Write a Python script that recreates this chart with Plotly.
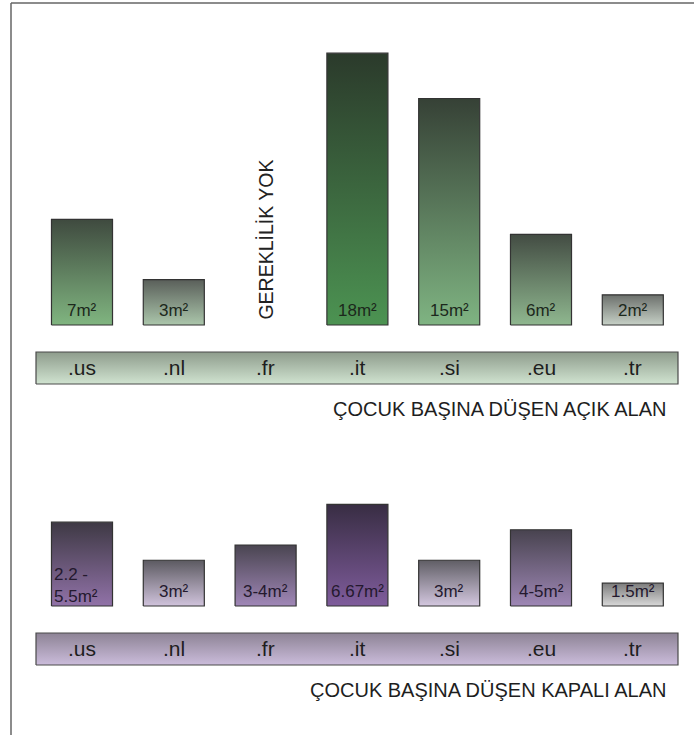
import plotly.graph_objects as go

# ---------------- data ----------------
categories = [".us", ".nl", ".fr", ".it", ".si", ".eu", ".tr"]
open_area = [7, 3, None, 18, 15, 6, 2]
open_labels = ["7m²", "3m²", "", "18m²", "15m²", "6m²", "2m²"]
open_note = "GEREKLİLİK YOK"
open_title = "ÇOCUK BAŞINA DÜŞEN AÇIK ALAN"

closed_area = [5.5, 3, 4, 6.67, 3, 5, 1.5]
closed_labels = ["2.2 -<br>5.5m²", "3m²", "3-4m²", "6.67m²", "3m²", "4-5m²", "1.5m²"]
closed_title = "ÇOCUK BAŞINA DÜŞEN KAPALI ALAN"

# ---------------- styles ----------------
open_colors = [("#3f4a3f", "#80b580"), ("#5a5f5a", "#abc6ab"), None,
               ("#2b3a2b", "#4c9352"), ("#364136", "#7fb482"),
               ("#434c43", "#8fb78f"), ("#6c706c", "#c6d0c6")]
closed_colors = [("#3e3944", "#9172a8"), ("#5c5a61", "#d0c3dc"), ("#4a4551", "#a087b7"),
                 ("#382d43", "#7f5c9c"), ("#605e65", "#d3c7df"),
                 ("#48434f", "#9e87b5"), ("#7c7c7c", "#d8d8d8")]
FONT = "Liberation Sans, Arial, sans-serif"
W, H = 694, 735
BAR_W = 0.665

fig = go.Figure()

def band(x0, x1, y0, y1, top, bottom):
    fig.add_trace(go.Scatter(
        x=[x0, x0, x1, x1, x0], y=[y1, y0, y0, y1, y1],
        xaxis="x2", yaxis="y3", mode="lines", fill="toself",
        fillgradient=dict(type="vertical", colorscale=[[0, bottom], [1, top]]),
        line=dict(color="#4a4a4a", width=1.2), hoverinfo="skip", showlegend=False))

# category bands (pixel coordinate helper axes)
band(36, 678, 352, 384, "#8e9c8c", "#d0e3d0")
band(36, 678, 633, 665, "#8d8395", "#cbbcdb")

def bars(values, colors, yaxis):
    for i, v in enumerate(values):
        if v is None:
            continue
        top, bottom = colors[i]
        x0, x1 = i - BAR_W / 2, i + BAR_W / 2
        fig.add_trace(go.Scatter(
            x=[x0, x0, x1, x1, x0], y=[0, v, v, 0, 0],
            xaxis="x", yaxis=yaxis, mode="lines", fill="toself",
            fillgradient=dict(type="vertical", colorscale=[[0, bottom], [1, top]]),
            line=dict(color="#333333", width=1.2), hoverinfo="skip", showlegend=False))

bars(open_area, open_colors, "y")
bars(closed_area, closed_colors, "y2")

ann = []
for i, c in enumerate(categories):
    # value labels
    if open_labels[i]:
        ann.append(dict(x=i, y=0, xref="x", yref="y", text=open_labels[i], showarrow=False,
                        yshift=15, yanchor="middle",
                        font=dict(family=FONT, size=17, color="#1c281c")))
    lab = closed_labels[i]
    if "<br>" in lab:
        ann.append(dict(x=i - BAR_W / 2, y=0, xref="x", yref="y2", text=lab, showarrow=False,
                        xanchor="left", align="left", yshift=21, yanchor="middle", xshift=1,
                        font=dict(family=FONT, size=17, color="#24192e")))
    else:
        ann.append(dict(x=i, y=0, xref="x", yref="y2", text=lab, showarrow=False,
                        yshift=15, yanchor="middle",
                        font=dict(family=FONT, size=17, color="#24192e")))
    # category labels in bands
    ann.append(dict(x=i, y=367, xref="x", yref="y3", text=c, showarrow=False,
                    font=dict(family=FONT, size=21, color="#1e1e1e")))
    ann.append(dict(x=i, y=648, xref="x", yref="y3", text=c, showarrow=False,
                    font=dict(family=FONT, size=21, color="#1e1e1e")))
    if open_area[i] is None:
        ann.append(dict(x=i, y=240, xref="x", yref="y3", text=open_note, showarrow=False,
                        textangle=-90, font=dict(family=FONT, size=19.5, color="#222")))

ann.append(dict(x=668, y=409, xref="x2", yref="y3", text=open_title, showarrow=False,
                xanchor="right", font=dict(family=FONT, size=20, color="#1e1e1e")))
ann.append(dict(x=668, y=690, xref="x2", yref="y3", text=closed_title, showarrow=False,
                xanchor="right", font=dict(family=FONT, size=20, color="#1e1e1e")))

hidden = dict(visible=False, showgrid=False, zeroline=False, fixedrange=True)
PX = 91.8
X0 = 82
fig.update_layout(
    width=W, height=H, margin=dict(l=0, r=0, t=0, b=0),
    paper_bgcolor="white", plot_bgcolor="white", showlegend=False,
    xaxis=dict(range=[-X0 / PX, (W - X0) / PX], domain=[0, 1], **hidden),
    yaxis=dict(range=[-(H - 325) / 15.1, 325 / 15.1], domain=[0, 1], **hidden),
    yaxis2=dict(range=[-(H - 606) / 15.25, 606 / 15.25], overlaying="y", **hidden),
    xaxis2=dict(range=[0, W], overlaying="x", **hidden),
    yaxis3=dict(range=[H, 0], overlaying="y", anchor="x2", **hidden),
    annotations=ann,
    shapes=[
        dict(type="line", xref="x2", yref="y3", x0=11, y0=3, x1=W, y1=3,
             line=dict(color="#666", width=1.5)),
        dict(type="line", xref="x2", yref="y3", x0=11, y0=3, x1=11, y1=H,
             line=dict(color="#666", width=1.5)),
    ],
)

fig.write_html("out.html", config={"displayModeBar": False, "staticPlot": True},
               post_script="document.body.style.margin='0';document.body.style.overflow='hidden';")
